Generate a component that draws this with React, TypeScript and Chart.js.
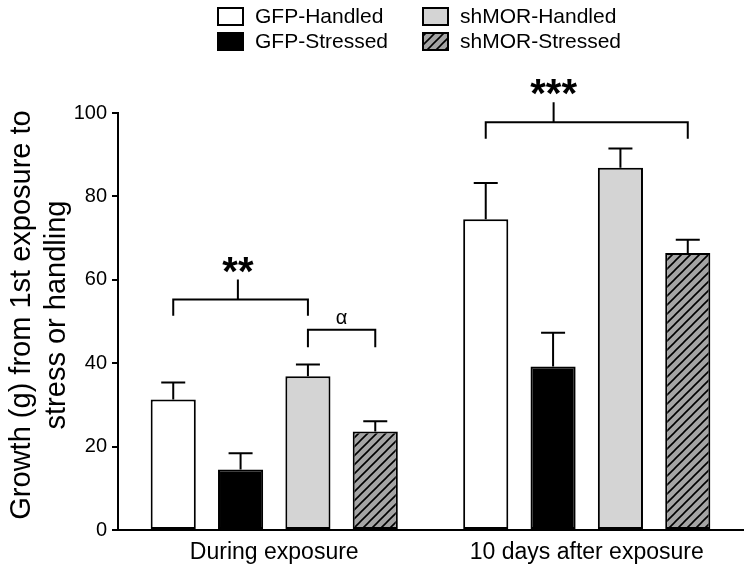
import React, { useEffect, useRef } from "react";
import { Chart, registerables } from "chart.js";

Chart.register(...registerables);

const FONT = "'Liberation Sans', Arial, Helvetica, sans-serif";

const categories = ["During exposure", "10 days after exposure"];
const seriesNames = ["GFP-Handled", "GFP-Stressed", "shMOR-Handled", "shMOR-Stressed"];
const gfpHandled = [31.3, 74.5];
const gfpStressed = [14.5, 39.2];
const shmorHandled = [36.9, 86.9];
const shmorStressed = [23.6, 66.4];
const gfpHandledErr = [4.1, 8.7];
const gfpStressedErr = [3.9, 8.1];
const shmorHandledErr = [2.8, 4.6];
const shmorStressedErr = [2.5, 3.2];
const yTicks = [0, 20, 40, 60, 80, 100];
const yTitle = ["Growth (g) from 1st exposure to", "stress or handling"];

// significance brackets: [dataset, category] endpoints, values in y units
const bracketFrom = [[0, 0], [2, 0], [0, 1]];
const bracketTo = [[2, 0], [3, 0], [3, 1]];
const bracketBar = [55.3, 48, 97.8];
const bracketLeg = [51.4, 43.8, 93.8];
const bracketTick = [60.1, null, 102.6];
const bracketTickFrac = [0.48, 0.5, 0.336];
const bracketLabel = ["**", "α", "***"];
const bracketLabelY = [63.0, 50.8, 105.6];

function makeHatch(): CanvasPattern | string {
  const c = document.createElement("canvas");
  const s = 9;
  c.width = s;
  c.height = s;
  const g = c.getContext("2d");
  if (!g) return "#a4a4a4";
  g.fillStyle = "#a4a4a4";
  g.fillRect(0, 0, s, s);
  g.strokeStyle = "#000";
  g.lineWidth = 1.6;
  g.beginPath();
  g.moveTo(-1, s + 1);
  g.lineTo(s + 1, -1);
  g.moveTo(-1, 1);
  g.lineTo(1, -1);
  g.moveTo(s - 1, s + 1);
  g.lineTo(s + 1, s - 1);
  g.stroke();
  const p = g.createPattern(c, "repeat");
  return p || "#a4a4a4";
}

export default function App() {
  const ref = useRef<HTMLCanvasElement | null>(null);

  useEffect(() => {
    document.body.style.margin = "0";
    const canvas = ref.current;
    if (!canvas) return;
    const hatch = makeHatch();
    const fills: any[] = ["#ffffff", "#000000", "#d4d4d4", hatch];
    const values = [gfpHandled, gfpStressed, shmorHandled, shmorStressed];
    const errors = [gfpHandledErr, gfpStressedErr, shmorHandledErr, shmorStressedErr];

    const overlay = {
      id: "overlay",
      afterDatasetsDraw(chart: any) {
        const ctx = chart.ctx;
        const y = chart.scales.y;
        ctx.save();
        ctx.strokeStyle = "#000";
        ctx.lineWidth = 2;
        // error bars
        values.forEach((vals, di) => {
          const meta = chart.getDatasetMeta(di);
          meta.data.forEach((bar: any, i: number) => {
            const top = y.getPixelForValue(vals[i]);
            const e = y.getPixelForValue(vals[i] + errors[di][i]);
            ctx.beginPath();
            ctx.moveTo(bar.x, top);
            ctx.lineTo(bar.x, e);
            ctx.moveTo(bar.x - 12, e);
            ctx.lineTo(bar.x + 12, e);
            ctx.stroke();
          });
        });
        // brackets
        bracketLabel.forEach((lab, k) => {
          const a = chart.getDatasetMeta(bracketFrom[k][0]).data[bracketFrom[k][1]];
          const b = chart.getDatasetMeta(bracketTo[k][0]).data[bracketTo[k][1]];
          const x1 = a.x;
          const x2 = b.x;
          const yb = y.getPixelForValue(bracketBar[k]);
          const yl = y.getPixelForValue(bracketLeg[k]);
          ctx.beginPath();
          ctx.moveTo(x1, yl);
          ctx.lineTo(x1, yb);
          ctx.lineTo(x2, yb);
          ctx.lineTo(x2, yl);
          const t = bracketTick[k];
          const xm = x1 + (x2 - x1) * bracketTickFrac[k];
          if (t !== null) {
            ctx.moveTo(xm, yb);
            ctx.lineTo(xm, y.getPixelForValue(t));
          }
          ctx.stroke();
          ctx.fillStyle = "#000";
          ctx.textAlign = "center";
          if (lab === "α") {
            ctx.textBaseline = "middle";
            ctx.font = `20px ${FONT}`;
            ctx.fillText(lab, xm, y.getPixelForValue(bracketLabelY[k]));
          } else {
            ctx.textBaseline = "alphabetic";
            const fs = 40;
            ctx.font = `bold ${fs}px ${FONT}`;
            ctx.fillText(lab, xm, y.getPixelForValue(bracketLabelY[k]) + 0.44 * fs);
          }
        });
        ctx.restore();
      },
      afterDraw(chart: any) {
        const ctx = chart.ctx;
        ctx.save();
        // y title
        ctx.fillStyle = "#000";
        ctx.font = `29px ${FONT}`;
        ctx.textAlign = "center";
        ctx.textBaseline = "alphabetic";
        const cy = 315;
        const xs = [30, 65];
        yTitle.forEach((line, i) => {
          ctx.save();
          ctx.translate(xs[i], cy);
          ctx.rotate(-Math.PI / 2);
          ctx.fillText(line, 0, 0);
          ctx.restore();
        });
        // legend (2 columns)
        const colBox = [218, 423];
        const rowY = [8, 33];
        const order = [
          [0, 0],
          [0, 1],
          [1, 0],
          [1, 1],
        ];
        ctx.font = `21px ${FONT}`;
        ctx.textAlign = "left";
        ctx.textBaseline = "middle";
        seriesNames.forEach((name, i) => {
          const [col, row] = order[i];
          const bx = colBox[col];
          const by = rowY[row];
          ctx.fillStyle = fills[i];
          ctx.fillRect(bx, by, 25, 17);
          ctx.strokeStyle = "#000";
          ctx.lineWidth = 2;
          ctx.strokeRect(bx, by, 25, 17);
          ctx.fillStyle = "#000";
          ctx.fillText(name, bx + 37, by + 9);
        });
        ctx.restore();
      },
    };

    const chart = new Chart(canvas, {
      type: "bar",
      data: {
        labels: categories,
        datasets: seriesNames.map((name, i) => ({
          label: name,
          data: values[i],
          backgroundColor: fills[i],
          borderColor: "#000",
          borderWidth: 2,
          borderSkipped: false,
          categoryPercentage: 0.862,
          barPercentage: 0.67,
        })),
      },
      options: {
        responsive: false,
        animation: false,
        devicePixelRatio: 1,
        layout: { padding: { top: 113, right: 8, bottom: 0, left: 0 } },
        plugins: {
          legend: { display: false },
          tooltip: { enabled: false },
          title: { display: false },
        },
        scales: {
          x: {
            grid: { display: false, drawTicks: false },
            border: { color: "#000", width: 2 },
            ticks: { color: "#000", font: { family: FONT, size: 23 }, padding: 9 },
            afterFit: (s: any) => {
              s.height = 41;
            },
          },
          y: {
            min: 0,
            max: 100,
            afterBuildTicks: (s: any) => {
              s.ticks = yTicks.map((v) => ({ value: v }));
            },
            ticks: { color: "#000", font: { family: FONT, size: 20 }, padding: 5 },
            grid: { drawOnChartArea: false, tickLength: 6, color: "#000", lineWidth: 2 },
            border: { color: "#000", width: 2 },
            afterFit: (s: any) => {
              s.width = 118;
            },
          },
        },
      },
      plugins: [overlay],
    });
    return () => chart.destroy();
  }, []);

  return (
    <div style={{ width: 751, height: 571, background: "#fff" }}>
      <canvas ref={ref} width={751} height={571} />
    </div>
  );
}
